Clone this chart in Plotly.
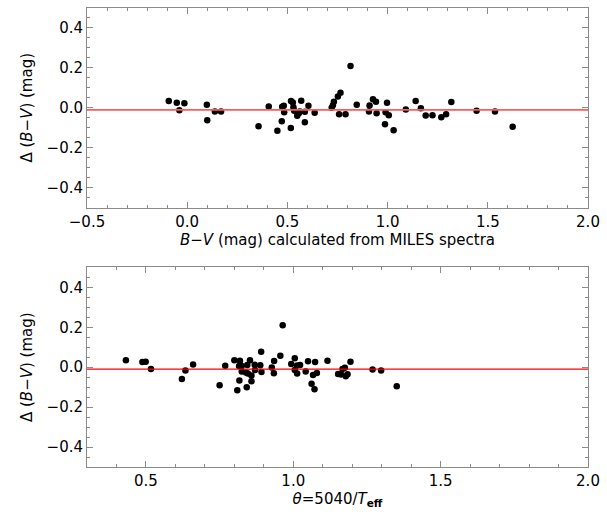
import plotly.graph_objects as go

# Top panel: B-V calculated from MILES spectra vs Delta(B-V)
bv_miles = [-0.092, -0.052, -0.039, -0.014, 0.098, 0.100, 0.138, 0.169, 0.356, 0.407,
            0.450, 0.472, 0.474, 0.482, 0.484, 0.518, 0.517, 0.527, 0.530, 0.534,
            0.549, 0.557, 0.562, 0.569, 0.587, 0.587, 0.605, 0.636, 0.721, 0.727,
            0.732, 0.752, 0.765, 0.758, 0.790, 0.815, 0.846, 0.907, 0.910, 0.927,
            0.942, 0.945, 0.987, 0.997, 0.990, 1.006, 1.030, 1.091, 1.140, 1.166,
            1.190, 1.224, 1.268, 1.292, 1.318, 1.444, 1.536, 1.624]
dbv_top = [0.034, 0.025, -0.012, 0.023, 0.015, -0.062, -0.018, -0.018, -0.092, 0.007,
           -0.115, -0.068, 0.005, 0.010, -0.022, 0.034, -0.101, 0.027, 0.003, -0.015,
           -0.040, -0.027, -0.018, 0.035, -0.020, -0.072, 0.010, -0.025, 0.000, 0.013,
           0.030, 0.057, 0.075, -0.032, -0.033, 0.210, 0.015, -0.018, 0.012, 0.043,
           0.030, -0.027, -0.083, 0.025, -0.022, -0.038, -0.112, -0.008, 0.034, -0.002,
           -0.039, -0.037, -0.047, -0.033, 0.029, -0.015, -0.018, -0.095]

# Bottom panel: theta = 5040/Teff vs Delta(B-V)
theta = [0.432, 0.488, 0.499, 0.517, 0.622, 0.634, 0.660, 0.750, 0.769,
         0.800, 0.816, 0.819, 0.825, 0.825, 0.817, 0.810, 0.839, 0.844, 0.846,
         0.853, 0.858, 0.858, 0.842, 0.869, 0.870, 0.888, 0.891, 0.892, 0.927,
         0.935, 0.934, 0.956, 0.964, 0.993, 1.005, 1.005, 1.013, 1.013, 1.023,
         1.042, 1.050, 1.062, 1.072, 1.067, 1.074, 1.080, 1.116, 1.152, 1.162,
         1.167, 1.175, 1.178, 1.184, 1.194, 1.269, 1.298, 1.351]
dbv_bottom = [0.035, 0.026, 0.027, -0.009, -0.059, -0.017, 0.014, -0.090, 0.007,
              0.035, 0.006, 0.032, 0.006, -0.021, -0.067, -0.115, -0.027, 0.011, -0.032,
              0.035, -0.042, -0.070, -0.100, 0.012, -0.014, 0.010, 0.077, -0.024, -0.001,
              0.031, -0.030, 0.057, 0.210, 0.016, 0.045, -0.014, -0.031, 0.009, 0.011,
              -0.022, 0.030, -0.083, -0.110, -0.039, 0.026, -0.029, 0.032, -0.034, -0.037,
              -0.009, -0.003, -0.045, -0.035, 0.027, -0.012, -0.017, -0.095]

mean_offset = -0.01
top_xrange = [-0.5, 2.0]
bottom_xrange = [0.3, 2.0]
yrange = [-0.5, 0.5]

FONT = "DejaVu Sans"
AXCOL = "#8a8a8a"

fig = go.Figure()
fig.add_trace(go.Scatter(x=bv_miles, y=dbv_top, mode="markers",
                         marker=dict(color="black", size=6.5),
                         xaxis="x", yaxis="y", showlegend=False))
fig.add_trace(go.Scatter(x=top_xrange, y=[mean_offset, mean_offset], mode="lines",
                         line=dict(color="#ff5a5a", width=1.8),
                         xaxis="x", yaxis="y", showlegend=False))
fig.add_trace(go.Scatter(x=theta, y=dbv_bottom, mode="markers",
                         marker=dict(color="black", size=6.5),
                         xaxis="x2", yaxis="y2", showlegend=False))
fig.add_trace(go.Scatter(x=bottom_xrange, y=[mean_offset, mean_offset], mode="lines",
                         line=dict(color="red", width=1.2),
                         xaxis="x2", yaxis="y2", showlegend=False))


def xax(rng, title, anchor):
    return dict(range=rng, anchor=anchor, dtick=0.5, tick0=0, tickformat=".1f",
                ticks="inside", ticklen=6, tickcolor=AXCOL, tickwidth=1,
                minor=dict(dtick=0.1, ticks="inside", ticklen=3, tickcolor=AXCOL),
                showline=True, linecolor=AXCOL, linewidth=1, mirror="allticks",
                showgrid=False, zeroline=False,
                tickfont=dict(family=FONT, size=15, color="black"),
                title=dict(text=title, font=dict(family=FONT, size=15, color="black"), standoff=4))


def yax(domain, anchor):
    return dict(range=yrange, domain=domain, anchor=anchor, dtick=0.2, tick0=0,
                tickformat=".1f",
                ticks="inside", ticklen=6, tickcolor=AXCOL, tickwidth=1,
                minor=dict(dtick=0.05, ticks="inside", ticklen=3, tickcolor=AXCOL),
                showline=True, linecolor=AXCOL, linewidth=1, mirror="allticks",
                showgrid=False, zeroline=False,
                tickfont=dict(family=FONT, size=15, color="black"),
                title=dict(text="Δ (<i>B−V</i>) (mag)",
                           font=dict(family=FONT, size=15, color="black"), standoff=10))


fig.update_layout(
    width=607, height=522,
    margin=dict(l=87, r=15, t=7, b=55),
    paper_bgcolor="white", plot_bgcolor="white",
    xaxis=xax(top_xrange, "<i>B−V</i> (mag) calculated from MILES spectra", "y"),
    yaxis=yax([0.5652, 1.0], "x"),
    xaxis2=xax(bottom_xrange, "<i>θ</i>=5040/<i>T</i><sub><b>eff</b></sub>", "y2"),
    yaxis2=yax([0.0, 0.4348], "x2"),
)

fig.write_html("out.html")
